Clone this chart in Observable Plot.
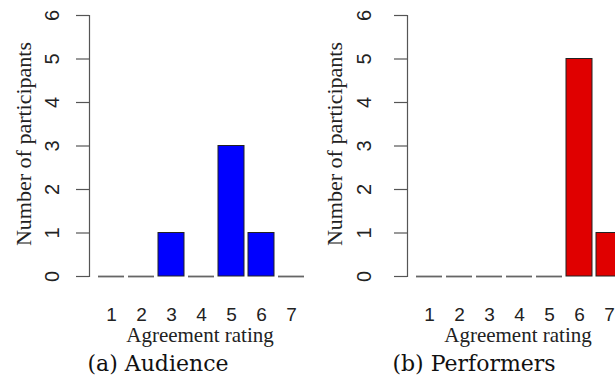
<!DOCTYPE html>
<html>
<head>
<meta charset="utf-8">
<script src="https://cdn.jsdelivr.net/npm/d3@7"></script>
<script src="https://cdn.jsdelivr.net/npm/@observablehq/plot@0.6"></script>
<style>
  html, body { margin: 0; padding: 0; background: #fff; overflow: hidden; }
  #wrap { position: relative; width: 615px; height: 385px; overflow: hidden; }
  .panel { position: absolute; top: 0; width: 310px; height: 385px; }
  .panel svg { overflow: visible; max-width: none !important; }
</style>
</head>
<body>
<div id="wrap"></div>
<script>
// ---- data ----
const ratings = [1, 2, 3, 4, 5, 6, 7];
const audienceCounts = [0, 0, 1, 0, 3, 1, 0];
const performerCounts = [0, 0, 0, 0, 0, 5, 1];
const yTicks = [0, 1, 2, 3, 4, 5, 6];
const xTitle = "Agreement rating";
const yTitle = "Number of participants";
const captions = ["(a) Audience", "(b) Performers"];

const panels = [
  {counts: audienceCounts, caption: captions[0], fill: "#0000ff", left: 0, tickDx: -37, titleDx: -66, capDx: -42},
  {counts: performerCounts, caption: captions[1], fill: "#e00000", left: 318, tickDx: -43, titleDx: -73, capDx: -44}
];

const sans = "Liberation Sans, Arial, sans-serif";
const serif = "Liberation Serif, Times New Roman, serif";
const capSerif = "DejaVu Serif, serif";

const wrap = document.getElementById("wrap");

for (const p of panels) {
  const data = ratings.map((r, i) => ({rating: r, n: p.counts[i]}));
  const chart = Plot.plot({
    width: 310,
    height: 385,
    marginLeft: 89,
    marginRight: 0,
    marginTop: 15,
    marginBottom: 109,
    style: {background: "transparent", color: "#222", maxWidth: "none"},
    x: {type: "band", domain: ratings, range: [94, 307], paddingInner: 0.15, paddingOuter: 0.1, axis: null},
    y: {domain: [0, 6], axis: null},
    marks: [
      Plot.frame({anchor: "left", stroke: "#555", strokeWidth: 1.2}),
      Plot.axisY({ticks: yTicks, tickSize: 13, tickFormat: () => "", label: null, stroke: "#555", strokeWidth: 1.2}),
      Plot.text(yTicks, {y: d => d, text: d => String(d), frameAnchor: "left", dx: p.tickDx, rotate: -90,
        textAnchor: "middle", lineAnchor: "middle", fontSize: 20, fontFamily: sans, fill: "#222"}),
      Plot.text([yTitle], {frameAnchor: "left", dx: p.titleDx, dy: -2, rotate: -90,
        textAnchor: "middle", lineAnchor: "middle", fontSize: 22, fontFamily: serif, fill: "#222"}),
      Plot.barY(data.filter(d => d.n > 0), {x: "rating", y: "n", fill: p.fill, stroke: "#222", strokeWidth: 1}),
      Plot.tickY(data.filter(d => d.n === 0), {x: "rating", y: "n", stroke: "#666", strokeWidth: 1.8}),
      Plot.axisX({domain: ratings, tickSize: 0, tickPadding: 31, label: null, fontSize: 19, fontFamily: sans, fill: "#222"}),
      Plot.text([xTitle], {frameAnchor: "bottom", dy: 59, textAnchor: "middle", lineAnchor: "middle",
        fontSize: 21, fontFamily: serif, fill: "#222"}),
      Plot.text([p.caption], {frameAnchor: "bottom", dx: p.capDx, dy: 87, textAnchor: "middle", lineAnchor: "middle",
        fontSize: 22, fontFamily: capSerif, fill: "#111"})
    ]
  });
  const div = document.createElement("div");
  div.className = "panel";
  div.style.left = p.left + "px";
  div.appendChild(chart);
  wrap.appendChild(div);
}
</script>
</body>
</html>
